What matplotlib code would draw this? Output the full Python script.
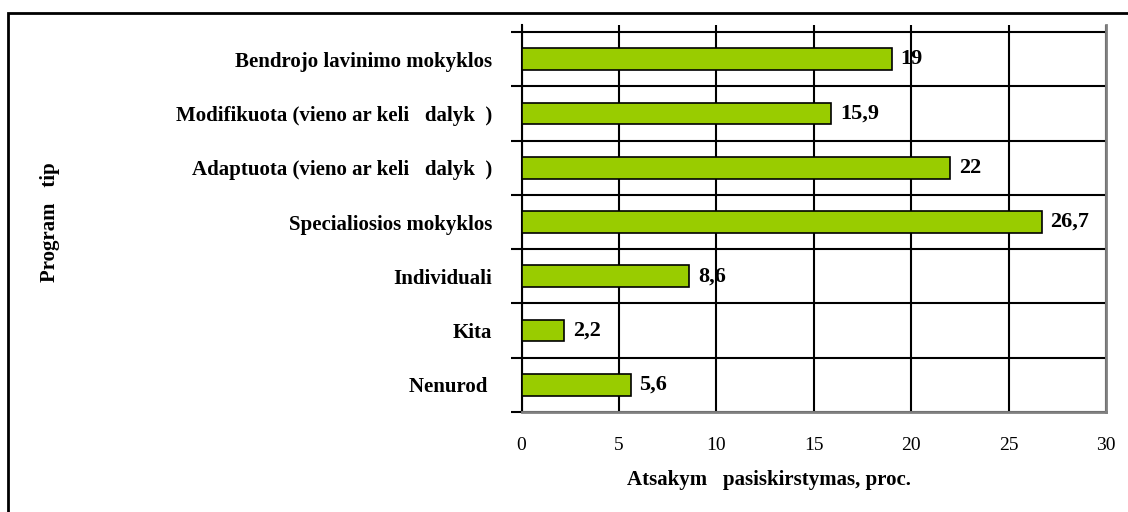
import matplotlib.pyplot as plt
from matplotlib.patches import Rectangle

categories = ['Bendrojo lavinimo mokyklos',
              'Modifikuota (vieno ar keli   dalyk  )',
              'Adaptuota (vieno ar keli   dalyk  )',
              'Specialiosios mokyklos',
              'Individuali',
              'Kita',
              'Nenurod ']
values = [19, 15.9, 22, 26.7, 8.6, 2.2, 5.6]
value_labels = ['19', '15,9', '22', '26,7', '8,6', '2,2', '5,6']
xticks = [0, 5, 10, 15, 20, 25, 30]

serif = 'Liberation Serif'

fig = plt.figure(figsize=(11.28, 5.12), dpi=100)
ax = fig.add_axes([521.5 / 1128, 100 / 512, (1106 - 521.5) / 1128, 387 / 512])

pos = list(range(len(categories)))
ax.barh(pos, values, height=0.4, color='#99cc00', edgecolor='black', linewidth=1.2, zorder=3)

for p, v, lab in zip(pos, values, value_labels):
    ax.text(v + 0.45, p, lab, va='center', ha='left', fontsize=16, fontweight='bold',
            family=serif, zorder=4)

ax.set_xlim(0, 30)
ax.set_ylim(6.5, -0.629)

# boundaries between categories get the tick marks and grid lines
bounds = [i - 0.5 for i in range(len(categories) + 1)]
ax.set_yticks(bounds)
ax.set_yticklabels([])
ax.set_yticks(pos, minor=True)
ax.set_yticklabels(categories, minor=True, fontsize=15, fontweight='bold', family=serif)
ax.tick_params(axis='y', which='major', length=8, width=1.5, direction='out', color='black')
ax.tick_params(axis='y', which='minor', length=0, pad=21)
ax.grid(axis='y', which='major', color='black', linewidth=1.5, zorder=1)

ax.set_xticks(xticks)
ax.set_xticklabels([str(t) for t in xticks], fontsize=14, family=serif)
ax.tick_params(axis='x', length=0, pad=18)
ax.grid(axis='x', color='black', linewidth=1.5, zorder=1)
ax.set_axisbelow(True)

ax.spines['top'].set_visible(False)
ax.spines['left'].set_color('black')
ax.spines['left'].set_linewidth(1.5)
ax.spines['right'].set_color('#808080')
ax.spines['right'].set_linewidth(2)
ax.spines['bottom'].set_color('#808080')
ax.spines['bottom'].set_linewidth(2)

fig.text(50 / 1128, 1 - 222 / 512, 'Program   tip', rotation=90, ha='center', va='center',
         fontsize=15, fontweight='bold', family=serif)
fig.text(769 / 1128, 1 - 480 / 512, 'Atsakym   pasiskirstymas, proc.', ha='center', va='center',
         fontsize=15, fontweight='bold', family=serif)

# outer frame, cut off at the right and bottom edges
fig.patches.append(Rectangle((8 / 1128, -0.1), 1.2, 1.1 - 13 / 512, transform=fig.transFigure,
                             fill=False, edgecolor='black', linewidth=2))

fig.savefig('out.png', dpi=100)
